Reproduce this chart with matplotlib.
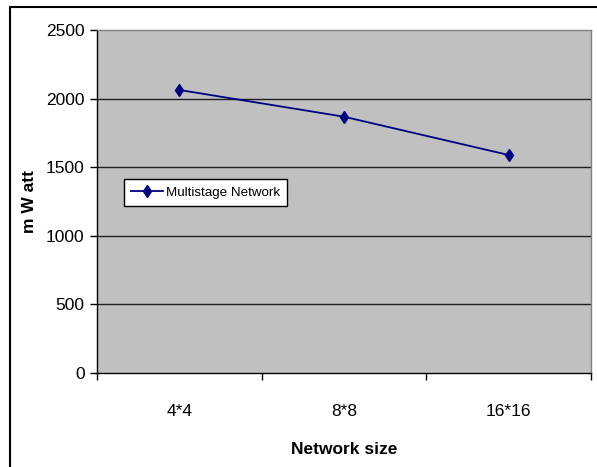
import matplotlib
matplotlib.use("Agg")
import matplotlib.pyplot as plt
from matplotlib.patches import Rectangle
from matplotlib.lines import Line2D

# Data
categories = ["4*4", "8*8", "16*16"]
power_mw = [2063, 1868, 1589]
series_name = "Multistage Network"
y_ticks = [0, 500, 1000, 1500, 2000, 2500]

plt.rcParams["font.family"] = ["Liberation Sans", "DejaVu Sans"]

W, H = 597, 467
fig = plt.figure(figsize=(W / 100, H / 100), dpi=100)
fig.patch.set_facecolor("white")

# Outer chart border (top and left edges visible)
fig.patches.append(Rectangle((10 / W, -0.1), 1.2, 1 - 7 / H + 0.1,
                             transform=fig.transFigure, fill=False,
                             edgecolor="black", linewidth=1.5))

left, right, top, bottom = 97, 591, 30, 373
ax = fig.add_axes([left / W, 1 - bottom / H, (right - left) / W, (bottom - top) / H])
ax.set_facecolor("#C0C0C0")

x = list(range(len(categories)))
ax.plot(x, power_mw, color="#000080", linewidth=1.3, marker="d",
        markersize=6, markerfacecolor="#000080", markeredgecolor="#000080",
        zorder=3)

ax.set_xlim(-0.5, len(categories) - 0.5)
ax.set_ylim(0, 2500)
ax.set_yticks(y_ticks)
ax.set_yticklabels([str(v) for v in y_ticks], fontsize=12.5)
ax.set_xticks([i - 0.5 for i in range(len(categories) + 1)])
ax.set_xticklabels([])
ax.set_xticks(x, minor=True)
ax.set_xticklabels(categories, minor=True, fontsize=12.5)
ax.tick_params(axis="x", which="minor", length=0, pad=22)
ax.tick_params(axis="x", which="major", direction="out", length=5, width=1)
ax.tick_params(axis="y", direction="out", length=5, width=1, pad=4)

for v in y_ticks[1:-1]:
    ax.axhline(v, color="#202020", linewidth=1, zorder=1)

for s in ("top", "right"):
    ax.spines[s].set_color("#808080")
    ax.spines[s].set_linewidth(1)
for s in ("left", "bottom"):
    ax.spines[s].set_color("black")
    ax.spines[s].set_linewidth(1)

fig.text(344 / W, 1 - 450 / H, "Network size", ha="center", va="center",
         fontsize=12.5, fontweight="bold")
fig.text(30 / W, 1 - 202 / H, "m W att", ha="center", va="center",
         rotation=90, fontsize=12.5, fontweight="bold")

handle = Line2D([], [], color="#000080", linewidth=1.3, marker="d",
                markersize=6, markerfacecolor="#000080")
leg = ax.legend([handle], [series_name], loc="upper left",
                bbox_to_anchor=((124 - left) / (right - left), (bottom - 179) / (bottom - top)),
                frameon=True, fancybox=False, framealpha=1, edgecolor="black",
                prop={"size": 9.6},
                handlelength=2.4, borderpad=0.55, borderaxespad=0,
                handletextpad=0.2)
leg.get_frame().set_linewidth(1)

fig.savefig("out.png", dpi=100)
